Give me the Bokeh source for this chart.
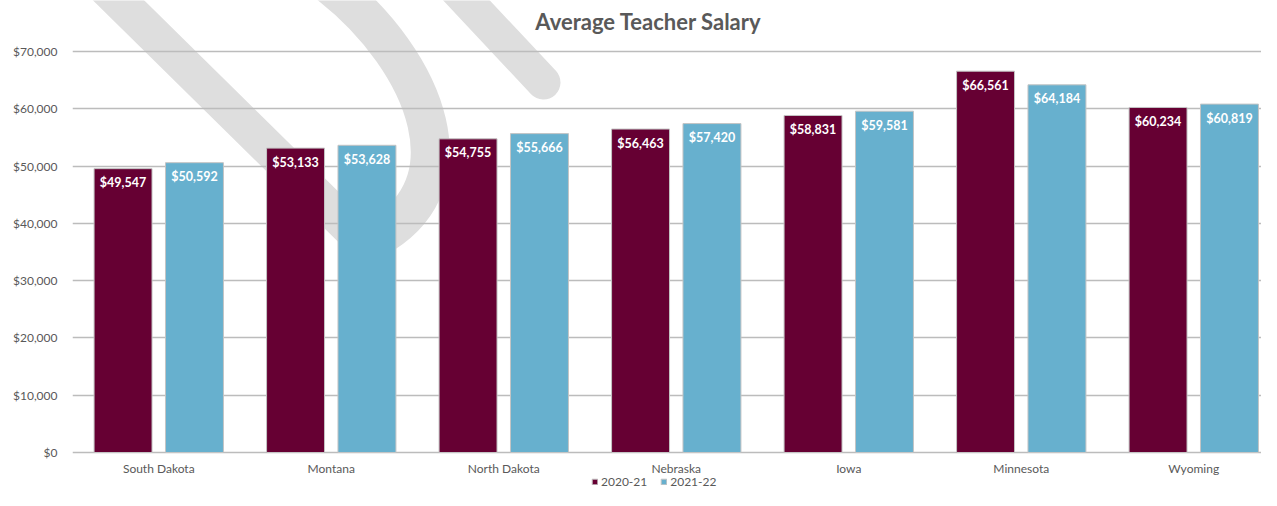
import numpy as np
from bokeh.plotting import figure
from bokeh.models import (Range1d, FixedTicker, NumeralTickFormatter, ColumnDataSource,
                          Legend, LegendItem, Label)
from bokeh.core.properties import value
from bokeh.embed import file_html
from bokeh.resources import INLINE

# ---------------- data ----------------
states = ["South Dakota", "Montana", "North Dakota", "Nebraska", "Iowa", "Minnesota", "Wyoming"]
salary_2020_21 = [49547, 53133, 54755, 56463, 58831, 66561, 60234]
salary_2021_22 = [50592, 53628, 55666, 57420, 59581, 64184, 60819]
series_names = ["2020-21", "2021-22"]
y_ticks = [0, 10000, 20000, 30000, 40000, 50000, 60000, 70000]
title_text = "Average Teacher Salary"

# ---------------- layout ----------------
W, H = 1261, 490
LEFT = 72            # frame left edge (canvas px)
BASE = 452           # canvas px of the $0 line
TOP70 = 51           # canvas px of the $70,000 line
CAT_PX = 172.5       # px per category
PX_PER_UNIT = (BASE - TOP70) / 70000.0
y_end = BASE / PX_PER_UNIT
y_start = -(H - BASE) / PX_PER_UNIT
x_end = (W - LEFT) / CAT_PX

MAROON = "#660033"
BLUE = "#67b0ce"
GRAY_TXT = "#595959"
FONT = "Lato"
SWOOSH = "#dedede"

p = figure(width=W, height=H, output_backend="svg", toolbar_location=None,
           x_range=Range1d(0, x_end), y_range=Range1d(y_start, y_end),
           x_axis_location=None, min_border_left=LEFT, min_border_right=0,
           min_border_top=0, min_border_bottom=0)
p.outline_line_color = None
p.background_fill_color = "white"
p.border_fill_color = "white"
p.xgrid.visible = False

# ---------------- decorative swoosh (background, canvas px) ----------------
def px_to_data(px, py):
    cx = np.asarray(px, dtype=float)
    cy = np.asarray(py, dtype=float)
    return (cx - LEFT) / CAT_PX, (BASE - cy) / PX_PER_UNIT

# straight left arm
ax, ay = px_to_data([103, 365], [-15, 243])
p.line(ax, ay, line_color=SWOOSH, line_width=36, line_cap="round", level="image")
# curved right arm (cubic bezier)
b0x, b0y = px_to_data(365, 243)
b1x, b1y = px_to_data(330, -15)
c0x, c0y = px_to_data(480, 190)
c1x, c1y = px_to_data(425, 60)
p.bezier(x0=[float(b0x)], y0=[float(b0y)], x1=[float(b1x)], y1=[float(b1y)],
         cx0=[float(c0x)], cy0=[float(c0y)], cx1=[float(c1x)], cy1=[float(c1y)],
         line_color=SWOOSH, line_width=39, line_cap="round", level="image")
# short third stroke
tx, ty = px_to_data([452, 543], [-15, 82])
p.line(tx, ty, line_color=SWOOSH, line_width=34, line_cap="round", level="image")

# ---------------- bars ----------------
centers = np.arange(len(states)) + 0.5
OFF = 0.207
BW = 0.336
src1 = ColumnDataSource(dict(x=centers - OFF, top=salary_2020_21,
                             lab=[f"${v:,}" for v in salary_2020_21]))
src2 = ColumnDataSource(dict(x=centers + OFF, top=salary_2021_22,
                             lab=[f"${v:,}" for v in salary_2021_22]))
r1 = p.vbar(x="x", top="top", bottom=0, width=BW, source=src1,
            fill_color=MAROON, line_color="#c4c4c4", line_width=1)
r2 = p.vbar(x="x", top="top", bottom=0, width=BW, source=src2,
            fill_color=BLUE, line_color="#c4c4c4", line_width=1)

for s in (src1, src2):
    p.text(x="x", y="top", text="lab", source=s, text_color="white",
           text_font=value(FONT), text_font_style="bold", text_font_size="12.5px",
           text_align="center", text_baseline="middle", y_offset=14)

# category labels
cat_src = ColumnDataSource(dict(x=centers, y=[0] * len(states), t=states))
p.text(x="x", y="y", text="t", source=cat_src, text_color=GRAY_TXT,
       text_font=value(FONT), text_font_size="12px", text_align="center",
       text_baseline="middle", y_offset=16)

# ---------------- axes / grid ----------------
p.yaxis.ticker = FixedTicker(ticks=y_ticks)
p.ygrid.ticker = FixedTicker(ticks=y_ticks)
p.yaxis.formatter = NumeralTickFormatter(format="$0,0")
p.yaxis.axis_line_color = None
p.yaxis.major_tick_line_color = None
p.yaxis.minor_tick_line_color = None
p.yaxis.major_tick_out = 0
p.yaxis.major_tick_in = 0
p.yaxis.minor_tick_out = 0
p.yaxis.major_label_standoff = 15
p.yaxis.major_label_text_font = FONT
p.yaxis.major_label_text_font_size = "12px"
p.yaxis.major_label_text_color = GRAY_TXT
p.ygrid.grid_line_color = "#bcbcbc"
p.ygrid.grid_line_width = 1.5

# ---------------- title ----------------
ttx, tty = px_to_data(648, 21)
p.add_layout(Label(x=float(ttx), y=float(tty), text=title_text, text_align="center",
                   text_baseline="middle", text_font=FONT, text_font_style="bold",
                   text_font_size="22px", text_color=GRAY_TXT))

# ---------------- legend ----------------
legend = Legend(items=[LegendItem(label=series_names[0], renderers=[r1]),
                       LegendItem(label=series_names[1], renderers=[r2])],
                orientation="horizontal", location=(519, 1),
                glyph_width=7, glyph_height=7, label_height=12, label_standoff=3,
                spacing=13, padding=0, margin=0, border_line_color=None,
                background_fill_alpha=0, label_text_font=FONT,
                label_text_font_size="12px", label_text_color=GRAY_TXT)
p.add_layout(legend)

open("out.html", "w").write(file_html(p, INLINE))
